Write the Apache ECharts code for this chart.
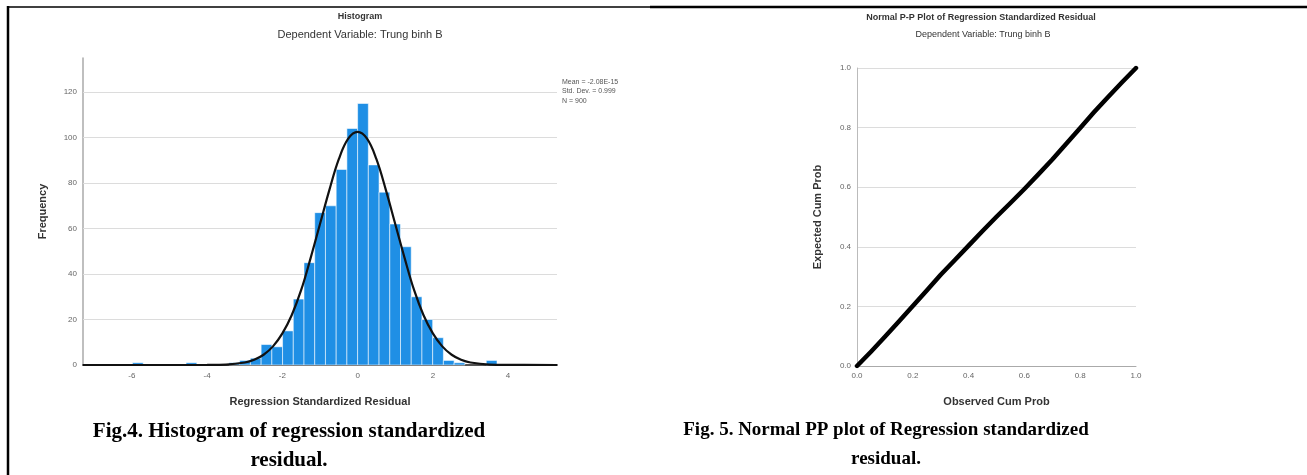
<!DOCTYPE html>
<html>
<head>
<meta charset="utf-8">
<script src="https://cdn.jsdelivr.net/npm/echarts@6/dist/echarts.min.js"></script>
<style>
  html, body { margin: 0; padding: 0; background: #fff; }
  #main { width: 1307px; height: 475px; }
</style>
</head>
<body>
<div id="main"></div>
<script>
// histogram bins (left edge, count), bin width
var binWidth = 0.285;
var binLeft = [-5.985, -4.56, -3.42, -3.135, -2.85, -2.565, -2.28, -1.995, -1.71, -1.425, -1.14, -0.855, -0.57, -0.285, 0, 0.285, 0.57, 0.855, 1.14, 1.425, 1.71, 1.995, 2.28, 2.565, 3.42];
var binCount = [1, 1, 1, 2, 3, 9, 8, 15, 29, 45, 67, 70, 86, 104, 115, 88, 76, 62, 52, 30, 20, 12, 2, 1, 2];

// normal curve
var curveX = [-7.3, -5, -4, -3.5, -3, -2.75, -2.5, -2.25, -2, -1.75, -1.5, -1.25, -1, -0.75, -0.5, -0.25, 0, 0.25, 0.5, 0.75, 1, 1.25, 1.5, 1.75, 2, 2.25, 2.5, 2.75, 3, 3.5, 4, 5.3];
var curveY = [0, 0, 0.05, 0.2, 1.1, 2.3, 4.5, 8.2, 13.9, 22, 33, 47, 62, 77, 90.5, 99.5, 102.5, 99.5, 90.5, 77, 62, 47, 33, 22, 13.9, 8.2, 4.5, 2.3, 1.1, 0.2, 0.05, 0];

var histXTicks = [-6, -4, -2, 0, 2, 4];
var histYTicks = [0, 20, 40, 60, 80, 100, 120];
var histStats = ['Mean = -2.08E-15', 'Std. Dev. = 0.999', 'N = 900'];

// P-P plot
var ppObserved = [0, 0.05, 0.1, 0.15, 0.2, 0.25, 0.3, 0.35, 0.4, 0.45, 0.5, 0.55, 0.6, 0.65, 0.7, 0.75, 0.8, 0.85, 0.9, 0.95, 1.0];
var ppExpected = [0, 0.048, 0.098, 0.149, 0.201, 0.253, 0.306, 0.355, 0.404, 0.453, 0.501, 0.547, 0.594, 0.643, 0.693, 0.746, 0.799, 0.852, 0.903, 0.952, 1.0];

var myChart = echarts.init(document.getElementById('main'));

var bins = binLeft.map(function (x, i) { return [x, x + binWidth, binCount[i]]; });
var curve = curveX.map(function (x, i) { return [x, curveY[i]]; });
var pp = ppObserved.map(function (x, i) { return [x, ppExpected[i]]; });

var font = 'Liberation Sans, Arial, sans-serif';
var serif = 'Liberation Serif, Times New Roman, serif';
var tickLabel = { color: '#666', fontSize: 8, fontFamily: font };
var nameStyle = { color: '#333', fontSize: 11, fontWeight: 'bold', fontFamily: font };

var option = {
  animation: false,
  title: [
    { text: 'Histogram', left: 355, top: 7, textAlign: 'center',
      textStyle: { fontSize: 9, fontWeight: 'bold', color: '#333', fontFamily: font } },
    { text: 'Dependent Variable: Trung binh B', left: 355, top: 24, textAlign: 'center',
      textStyle: { fontSize: 11, fontWeight: 'normal', color: '#333', fontFamily: font } },
    { text: 'Normal P-P Plot of Regression Standardized Residual', left: 976, top: 8, textAlign: 'center',
      textStyle: { fontSize: 9, fontWeight: 'bold', color: '#333', fontFamily: font } },
    { text: 'Dependent Variable: Trung binh B', left: 978, top: 25, textAlign: 'center',
      textStyle: { fontSize: 9, fontWeight: 'normal', color: '#333', fontFamily: font } }
  ],
  grid: [
    { left: 83, top: 58, width: 474, height: 307 },
    { left: 857, top: 68, width: 279, height: 298 }
  ],
  xAxis: [
    { gridIndex: 0, type: 'value', min: -7.3, max: 5.3,
      name: 'Regression Standardized Residual', nameLocation: 'middle', nameGap: 31, nameTextStyle: nameStyle,
      axisLine: { onZero: false, lineStyle: { color: '#555', width: 2 } },
      axisTick: { show: false },
      axisLabel: Object.assign({ customValues: histXTicks, margin: 7 }, tickLabel),
      splitLine: { show: false } },
    { gridIndex: 1, type: 'value', min: 0, max: 1, interval: 0.2,
      name: 'Observed Cum Prob', nameLocation: 'middle', nameGap: 30, nameTextStyle: nameStyle,
      axisLine: { onZero: false, lineStyle: { color: '#aaa', width: 1 } },
      axisTick: { show: false },
      axisLabel: Object.assign({ margin: 6, formatter: function (v) { return v.toFixed(1); } }, tickLabel),
      splitLine: { show: false } }
  ],
  yAxis: [
    { gridIndex: 0, type: 'value', min: 0, max: 135,
      name: 'Frequency', nameLocation: 'middle', nameGap: 35, nameTextStyle: nameStyle,
      axisLine: { show: true, onZero: false, lineStyle: { color: '#aaa', width: 1.5 } },
      axisTick: { show: false },
      axisLabel: Object.assign({ customValues: histYTicks, margin: 6 }, tickLabel),
      splitLine: { show: false } },
    { gridIndex: 1, type: 'value', min: 0, max: 1, interval: 0.2,
      name: 'Expected Cum Prob', nameLocation: 'middle', nameGap: 34, nameTextStyle: nameStyle,
      axisLine: { show: true, onZero: false, lineStyle: { color: '#bbb', width: 1 } },
      axisTick: { show: false },
      axisLabel: Object.assign({ margin: 6, formatter: function (v) { return v.toFixed(1); } }, tickLabel),
      splitLine: { show: true, lineStyle: { color: '#dcdcdc', width: 1 } } }
  ],
  series: [
    {
      type: 'line', xAxisIndex: 0, yAxisIndex: 0, data: [], silent: true, z: 1,
      markLine: {
        z: 1, silent: true, symbol: 'none', label: { show: false },
        lineStyle: { color: '#dcdcdc', width: 1, type: 'solid' },
        data: histYTicks.slice(1).map(function (v) { return { yAxis: v }; })
      }
    },
    {
      type: 'custom', xAxisIndex: 0, yAxisIndex: 0, data: bins, z: 3,
      encode: { x: [0, 1], y: 2 },
      renderItem: function (params, api) {
        var p0 = api.coord([api.value(0), api.value(2)]);
        var p1 = api.coord([api.value(1), 0]);
        return {
          type: 'rect',
          shape: { x: p0[0], y: p0[1], width: p1[0] - p0[0], height: p1[1] - p0[1] },
          style: { fill: '#1f8fe5', stroke: 'rgba(255,255,255,0.55)', lineWidth: 1 }
        };
      }
    },
    {
      type: 'line', xAxisIndex: 0, yAxisIndex: 0, data: curve, smooth: 0.4,
      showSymbol: false, lineStyle: { color: '#111', width: 2.2 }, z: 5
    },
    {
      type: 'line', xAxisIndex: 1, yAxisIndex: 1, data: pp,
      showSymbol: false, lineStyle: { color: '#000', width: 4.5, cap: 'round', join: 'round' }, z: 5
    }
  ],
  graphic: [
    { type: 'line', shape: { x1: 8, y1: 7, x2: 650, y2: 7 }, style: { stroke: '#000', lineWidth: 1.5 } },
    { type: 'line', shape: { x1: 650, y1: 7, x2: 1307, y2: 7 }, style: { stroke: '#000', lineWidth: 2.5 } },
    { type: 'line', shape: { x1: 8, y1: 6, x2: 8, y2: 475 }, style: { stroke: '#000', lineWidth: 2.5 } },
    { type: 'text', x: 562, y: 77, style: { text: histStats.join('\n'), fontSize: 7, lineHeight: 9.5, fill: '#555', fontFamily: font } },
    { type: 'text', x: 289, y: 421, style: { text: 'Fig.4. Histogram of regression standardized', textAlign: 'center',
      fontSize: 21, fontWeight: 'bold', fill: '#000', fontFamily: serif } },
    { type: 'text', x: 289, y: 450, style: { text: 'residual.', textAlign: 'center',
      fontSize: 21, fontWeight: 'bold', fill: '#000', fontFamily: serif } },
    { type: 'text', x: 886, y: 421, style: { text: 'Fig. 5. Normal PP plot of Regression standardized', textAlign: 'center',
      fontSize: 19, fontWeight: 'bold', fill: '#000', fontFamily: serif } },
    { type: 'text', x: 886, y: 450, style: { text: 'residual.', textAlign: 'center',
      fontSize: 19, fontWeight: 'bold', fill: '#000', fontFamily: serif } }
  ]
};
myChart.setOption(option);
</script>
</body>
</html>
